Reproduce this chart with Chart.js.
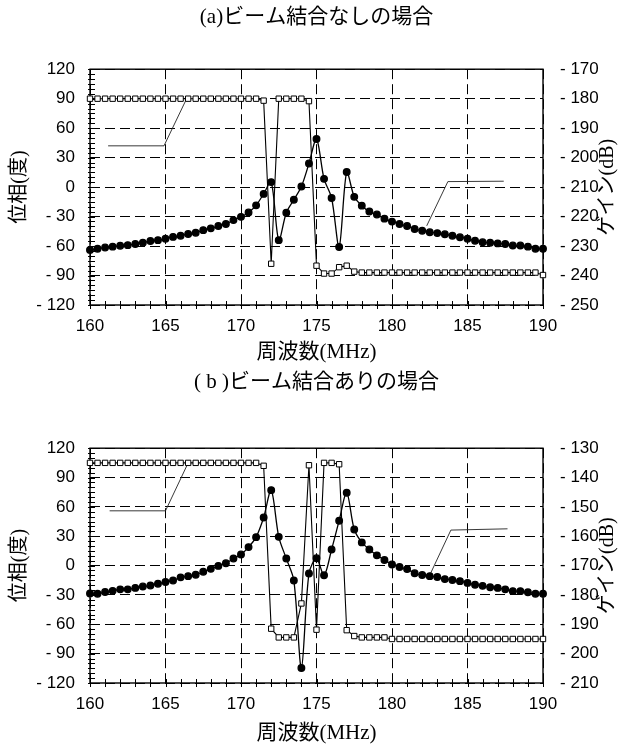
<!DOCTYPE html>
<html>
<head>
<meta charset="utf-8">
<script src="https://cdn.jsdelivr.net/npm/chart.js@4.4.1/dist/chart.umd.min.js"></script>
<style>
  html, body { margin: 0; padding: 0; background: #fff; }
  .panel { position: absolute; left: 0; }
</style>
</head>
<body>
<div class="panel" style="top:0"><canvas id="chartA" width="633" height="368"></canvas></div>
<div class="panel" style="top:368px"><canvas id="chartB" width="633" height="378"></canvas></div>
<script>
// frequency points (MHz)
const freqMHz = [
    160, 160.5, 161, 161.5, 162, 162.5, 163, 163.5, 164, 164.5,
    165, 165.5, 166, 166.5, 167, 167.5, 168, 168.5, 169, 169.5,
    170, 170.5, 171, 171.5, 172, 172.5, 173, 173.5, 174, 174.5,
    175, 175.5, 176, 176.5, 177, 177.5, 178, 178.5, 179, 179.5,
    180, 180.5, 181, 181.5, 182, 182.5, 183, 183.5, 184, 184.5,
    185, 185.5, 186, 186.5, 187, 187.5, 188, 188.5, 189, 189.5, 190
];

// (a) no beam coupling
const phaseA = [
    90, 90, 90, 90, 90, 90, 90, 90, 90, 90,
    90, 90, 90, 90, 90, 90, 90, 90, 90, 90,
    90, 90, 90, 88, -78, 90, 90, 90, 90, 87.5,
    -80, -88, -88, -81.5, -80, -86, -87, -87, -87, -87,
    -87, -87, -87, -87, -87, -87, -87, -87, -87, -87,
    -87, -87, -87, -87, -87, -87, -87, -87, -87, -87, -89.5
];
const gainA = [
    -231.3, -230.9, -230.5, -230.2, -229.9, -229.7, -229.3, -228.9, -228.3, -228.0,
    -227.5, -226.9, -226.5, -225.9, -225.5, -224.6, -224.0, -223.2, -222.5, -221.2,
    -220.1, -218.6, -216.2, -212.3, -208.3, -228.0, -218.7, -214.3, -209.8, -202.0,
    -193.7, -207.2, -213.7, -230.3, -204.9, -213.3, -216.3, -218.3, -219.3, -220.7,
    -221.7, -222.5, -223.2, -224.2, -224.8, -225.3, -225.6, -226.0, -226.5, -227.0,
    -227.5, -228.2, -228.7, -228.9, -229.1, -229.3, -229.8, -229.8, -230.2, -230.9, -230.9
];

// (b) with beam coupling
const phaseB = [
    105, 105, 105, 105, 105, 105, 105, 105, 105, 105,
    105, 105, 105, 105, 105, 105, 105, 105, 105, 105,
    105, 105, 105, 102, -64.5, -73.4, -73.4, -73.4, -38.7, 102.6,
    -65.5, 105, 105, 103.6, -66, -72, -73.4, -73.4, -73.4, -73.4,
    -75, -75, -75, -75, -75, -75, -75, -75, -75, -75,
    -75, -75, -75, -75, -75, -75, -75, -75, -75, -75, -75
];
const gainB = [
    -179.5, -179.6, -179.0, -178.6, -178.1, -178.1, -177.6, -177.1, -176.8, -176.2,
    -175.6, -175.1, -174.0, -173.6, -173.1, -172.1, -171.1, -170.1, -169.2, -167.6,
    -166.2, -163.7, -160.3, -153.6, -144.3, -160.2, -167.6, -175.1, -204.9, -172.7,
    -167.5, -173.3, -164.5, -154.7, -145.2, -157.7, -162.1, -164.5, -166.5, -168.1,
    -169.6, -170.5, -171.2, -172.6, -173.2, -173.6, -173.9, -174.6, -174.9, -175.3,
    -175.9, -176.5, -176.9, -177.4, -177.6, -178.1, -178.7, -178.7, -179.1, -179.6, -179.6
];

// leader lines (label callouts, text removed in the original), in data units of the phase axis
const leaderA_phase = [{x: 166.4, y: 90}, {x: 164.9, y: 42}, {x: 161.2, y: 42}];
const leaderA_gain = [{x: 182.3, y: -39.4}, {x: 183.7, y: 5.6}, {x: 187.4, y: 6}];
const leaderB_phase = [{x: 166.5, y: 105}, {x: 165.0, y: 56}, {x: 161.3, y: 56}];
const leaderB_gain = [{x: 182.5, y: -9.7}, {x: 183.9, y: 36.3}, {x: 187.65, y: 37.6}];

// tick labels
const freqTicks = [160, 165, 170, 175, 180, 185, 190];
const phaseTicks = [-120, -90, -60, -30, 0, 30, 60, 90, 120];
const gainTicksA = [-250, -240, -230, -220, -210, -200, -190, -180, -170];
const gainTicksB = [-210, -200, -190, -180, -170, -160, -150, -140, -130];

const tickFont = { family: '"Liberation Sans", Arial, sans-serif', size: 17 };
const titleFamily = '"Liberation Serif", "Noto Sans CJK JP", serif';

function fmtTick(v) {
    return v < 0 ? '- ' + Math.abs(v) : String(v);
}

// frame, minor ticks and right-hand axis title
const framePlugin = {
    id: 'frame',
    beforeDatasetsDraw(chart) {
        const { ctx, chartArea: a } = chart;
        const xs = chart.scales.x, ys = chart.scales.y;
        ctx.save();
        ctx.strokeStyle = '#000';
        ctx.lineWidth = 1;
        ctx.beginPath();
        for (let v = 160; v <= 190; v += 1) {
            const px = Math.round(xs.getPixelForValue(v)) + 0.5;
            ctx.moveTo(px, a.bottom - 4);
            ctx.lineTo(px, a.bottom + 4);
        }
        for (let v = -120; v <= 120; v += 5) {
            const py = Math.round(ys.getPixelForValue(v)) + 0.5;
            ctx.moveTo(a.left - 2, py);
            ctx.lineTo(a.left + 5, py);
        }
        ctx.stroke();
        ctx.lineWidth = 1.4;
        ctx.strokeRect(a.left, a.top, a.right - a.left, a.bottom - a.top);
        ctx.restore();
    },
    afterDraw(chart, args, opts) {
        const { ctx, chartArea: a } = chart;
        ctx.save();
        ctx.translate(opts.titleX, (a.top + a.bottom) / 2);
        ctx.rotate(-Math.PI / 2);
        ctx.fillStyle = '#000';
        ctx.font = '20px ' + titleFamily;
        ctx.textAlign = 'center';
        ctx.textBaseline = 'middle';
        ctx.fillText('ゲイン(dB)', 0, 0);
        ctx.restore();
    }
};

function drawPanel(canvasId, p) {
    const pts = (ys) => freqMHz.map((f, i) => ({ x: f, y: ys[i] }));
    const leader = (d) => ({
        data: d, yAxisID: 'y', borderColor: '#222', borderWidth: 0.9,
        pointRadius: 0, tension: 0, clip: false
    });

    new Chart(document.getElementById(canvasId), {
        type: 'line',
        data: {
            datasets: [
                {
                    label: '位相',
                    data: pts(p.phase),
                    yAxisID: 'y',
                    borderColor: '#000',
                    borderWidth: 1.1,
                    pointStyle: 'rect',
                    pointRadius: 3.8,
                    pointBackgroundColor: '#fff',
                    pointBorderColor: '#000',
                    pointBorderWidth: 1,
                    tension: 0,
                    clip: false
                },
                {
                    label: 'ゲイン',
                    data: pts(p.gain),
                    yAxisID: 'y2',
                    borderColor: '#000',
                    borderWidth: 1.3,
                    pointStyle: 'circle',
                    pointRadius: 3.3,
                    pointBackgroundColor: '#000',
                    pointBorderColor: '#000',
                    tension: 0.3,
                    clip: false
                },
                leader(p.leaderPhase),
                leader(p.leaderGain)
            ]
        },
        options: {
            responsive: false,
            devicePixelRatio: 1,
            animation: false,
            events: [],
            layout: { padding: 0 },
            plugins: {
                legend: { display: false },
                tooltip: { enabled: false },
                title: {
                    display: true,
                    text: p.title,
                    color: '#000',
                    font: { family: titleFamily, size: 21, weight: 'normal' },
                    padding: { top: p.titleTop, bottom: p.titleBottom }
                },
                frame: { titleX: 608 }
            },
            scales: {
                x: {
                    type: 'linear',
                    min: 160, max: 190,
                    afterBuildTicks: (s) => { s.ticks = freqTicks.map(v => ({ value: v })); },
                    afterFit: (s) => { s.height = p.xHeight; },
                    grid: { color: '#000', lineWidth: 1, drawTicks: false },
                    border: { display: false, dash: [10, 5] },
                    ticks: { color: '#000', font: tickFont, padding: 11, maxRotation: 0 },
                    title: {
                        display: true, text: '周波数(MHz)', color: '#000',
                        font: { family: titleFamily, size: 21 },
                        padding: { top: 0, bottom: p.xTitleBottom }
                    }
                },
                y: {
                    position: 'left',
                    min: -120, max: 120,
                    afterBuildTicks: (s) => { s.ticks = phaseTicks.map(v => ({ value: v })); },
                    afterFit: (s) => { s.width = 90; },
                    grid: { color: '#000', lineWidth: 1, drawTicks: false },
                    border: { display: false, dash: [10, 5] },
                    ticks: { color: '#000', font: tickFont, padding: 15, callback: fmtTick },
                    title: {
                        display: true, text: '位相(度)', color: '#000',
                        font: { family: titleFamily, size: 20 },
                        padding: { top: 8, bottom: 0 }
                    }
                },
                y2: {
                    position: 'right',
                    min: p.gainTicks[0], max: p.gainTicks[p.gainTicks.length - 1],
                    afterBuildTicks: (s) => { s.ticks = p.gainTicks.map(v => ({ value: v })); },
                    afterFit: (s) => { s.width = 90; },
                    grid: { display: false, drawTicks: false },
                    border: { display: false },
                    ticks: { color: '#000', font: tickFont, padding: 17, callback: fmtTick }
                }
            }
        },
        plugins: [framePlugin]
    });
}

drawPanel('chartA', {
    title: '(a)ビーム結合なしの場合',
    phase: phaseA, gain: gainA, gainTicks: gainTicksA,
    leaderPhase: leaderA_phase, leaderGain: leaderA_gain,
    titleTop: 5, titleBottom: 39, xHeight: 63, xTitleBottom: 3
});
drawPanel('chartB', {
    title: '( b )ビーム結合ありの場合',
    phase: phaseB, gain: gainB, gainTicks: gainTicksB,
    leaderPhase: leaderB_phase, leaderGain: leaderB_gain,
    titleTop: 2, titleBottom: 53, xHeight: 63, xTitleBottom: 0
});
</script>
</body>
</html>
